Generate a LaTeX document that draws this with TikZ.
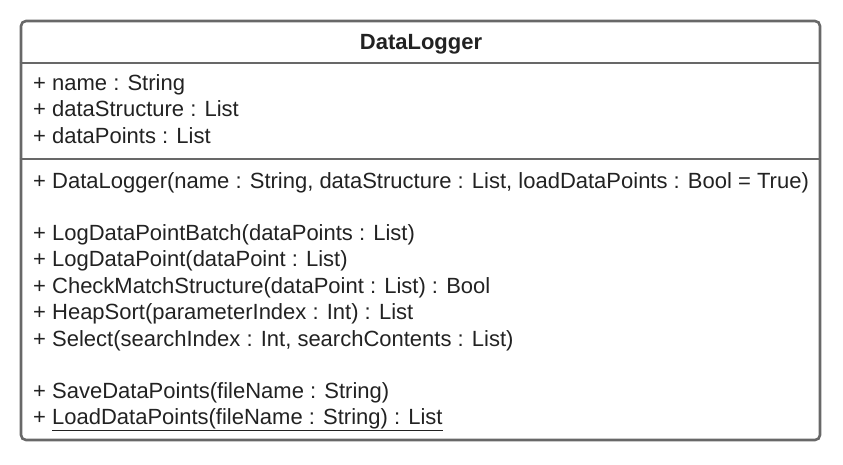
\documentclass[tikz,border=0pt]{standalone}
\usepackage{fontspec}
\setmainfont{Liberation Sans}
\usepackage{xcolor}
\usetikzlibrary{positioning,calc}

\definecolor{umlgray}{RGB}{104,104,104}
\definecolor{umltext}{RGB}{34,34,34}

\begin{document}
\begin{tikzpicture}[
x=1pt,
y=-1pt,
every node/.style={font=\fontsize{22}{26}\selectfont,text=umltext},
classbox/.style={rectangle,rounded corners=5pt,draw=umlgray,line width=2.6pt,minimum width=799pt,minimum height=419pt,inner sep=0pt},
rule/.style={draw=umlgray,line width=2.6pt},
member/.style={anchor=base west,inner sep=0pt},
classname/.style={anchor=base,inner sep=0pt,font=\fontsize{22}{26}\selectfont\bfseries}
]
\useasboundingbox (0,0) rectangle (843,464);
\node[classbox] (logger) at (420.5,230.5) {};
\draw[rule] (logger.west |- 0,63) -- (logger.east |- 0,63);
\draw[rule] (logger.west |- 0,159) -- (logger.east |- 0,159);

\node[classname] (title) at (421,49) {DataLogger};

% attributes
\node[member] (aname) at (33,90) {+ name : String};
\node[member] (astruct) at (33,116.5) {+ dataStructure : List};
\node[member] (apoints) at (33,143) {+ dataPoints : List};

% operations
\node[member] (ctor) at (33,188) {+ DataLogger(name : String, dataStructure : List, loadDataPoints : Bool = True)};

\node[member] (mbatch) at (33,240) {+ LogDataPointBatch(dataPoints : List)};
\node[member] (mpoint) at (33,266.5) {+ LogDataPoint(dataPoint : List)};
\node[member] (mcheck) at (33,293) {+ CheckMatchStructure(dataPoint : List) : Bool};
\node[member] (msort) at (33,319.5) {+ HeapSort(parameterIndex : Int) : List};
\node[member] (mselect) at (33,346) {+ Select(searchIndex : Int, searchContents : List)};

\node[member] (msave) at (33,398) {+ SaveDataPoints(fileName : String)};
\node[member] (mload) at (33,424.5) {+ \underline{LoadDataPoints(fileName : String) : List}};
\end{tikzpicture}
\end{document}
